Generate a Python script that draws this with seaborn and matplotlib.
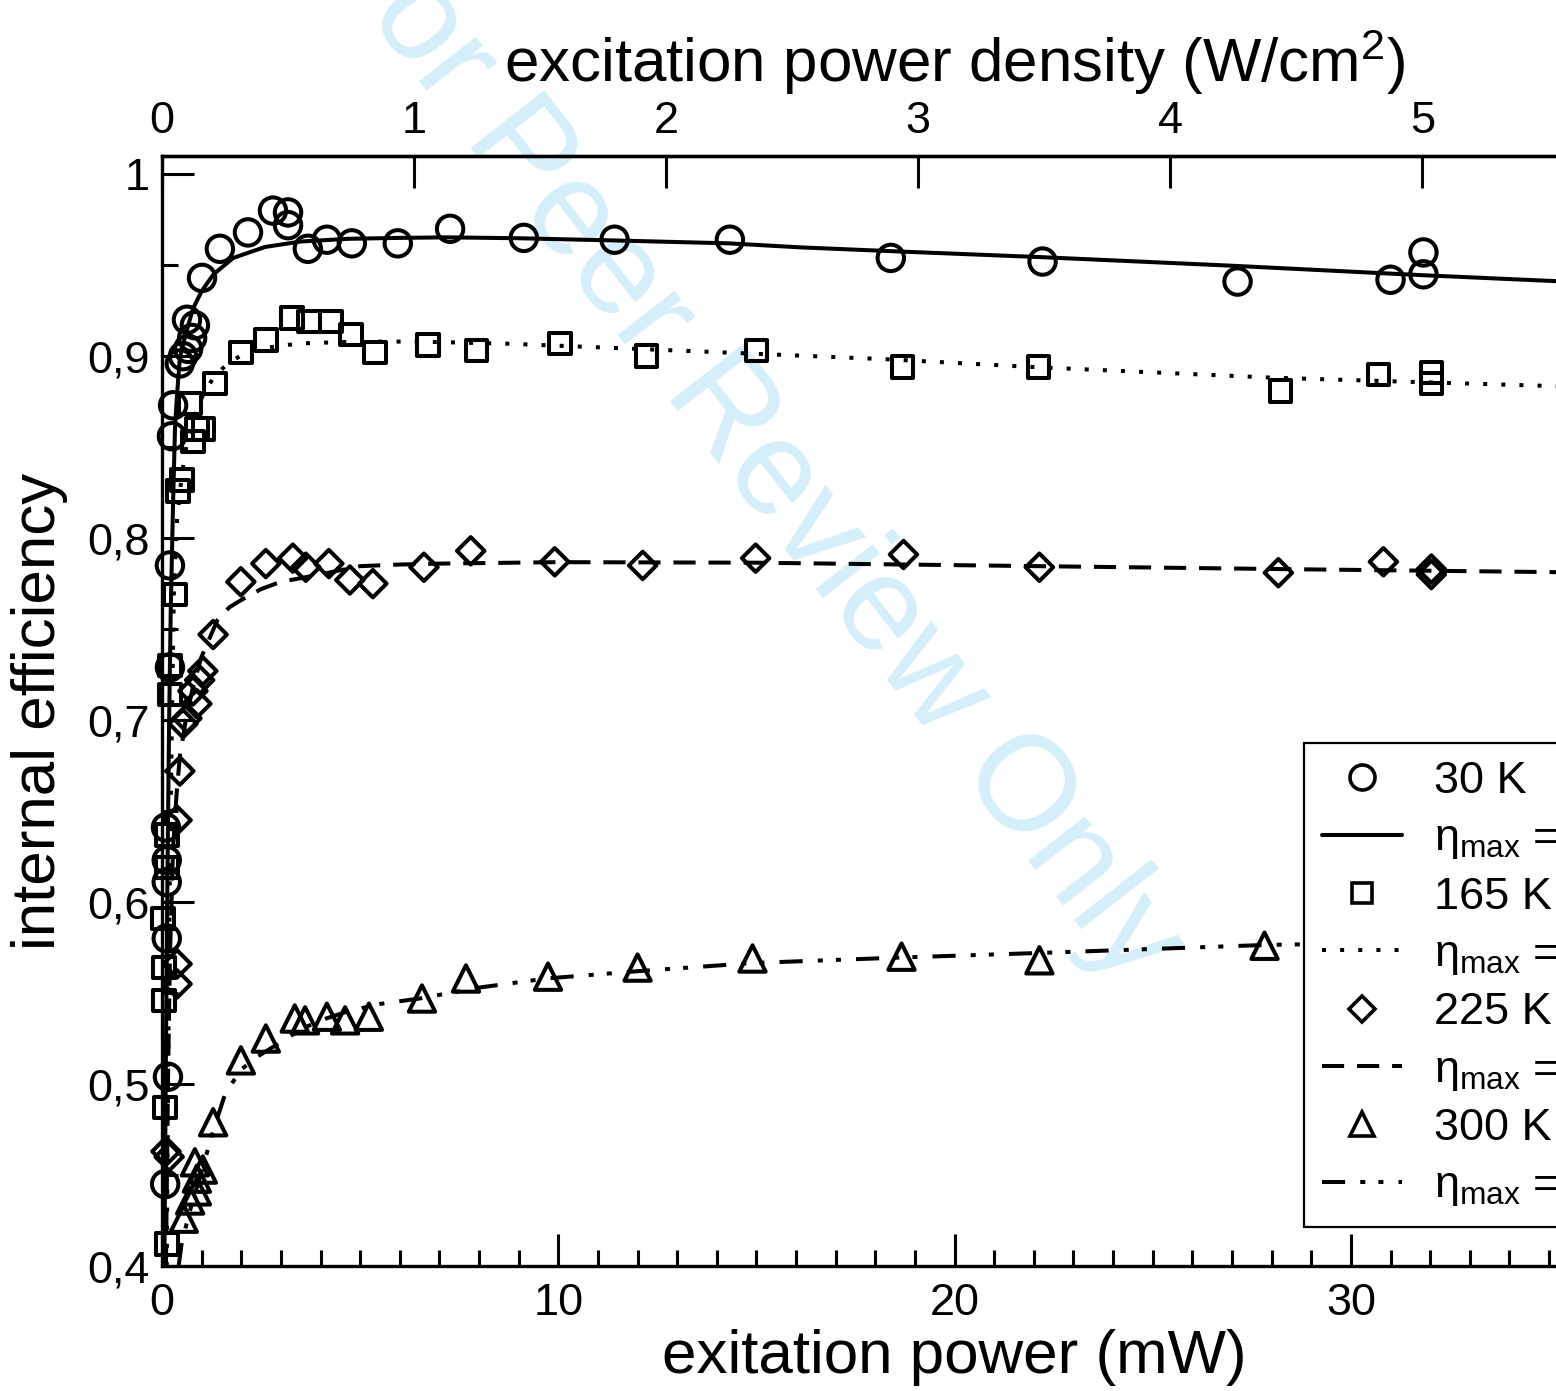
import numpy as np
import pandas as pd
import matplotlib
matplotlib.use("Agg")
import matplotlib.pyplot as plt
from matplotlib.lines import Line2D
from matplotlib.ticker import MultipleLocator, FuncFormatter, FixedLocator
import seaborn as sns

# ---------------- data ----------------
# 30 K measured points
t30_x = [0.08, 0.15, 0.12, 0.12, 0.12, 0.10, 0.20, 0.20, 0.25, 0.28, 0.45, 0.53, 0.66, 0.76, 0.83, 0.63,
         1.01, 1.46, 2.17, 2.80, 3.18, 3.18, 3.68, 4.16, 4.79, 5.95, 7.27, 9.13, 11.42, 14.33, 18.39,
         22.22, 27.14, 31.00, 31.83, 31.83]
t30_y = [0.445, 0.504, 0.580, 0.611, 0.623, 0.641, 0.729, 0.785, 0.856, 0.873, 0.896, 0.900, 0.904, 0.910,
         0.917, 0.920, 0.943, 0.959, 0.968, 0.980, 0.979, 0.972, 0.959, 0.964, 0.962, 0.962, 0.970, 0.965,
         0.964, 0.964, 0.954, 0.952, 0.941, 0.942, 0.945, 0.957]
# 165 K measured points
t165_x = [0.12, 0.08, 0.05, 0.05, 0.03, 0.13, 0.13, 0.20, 0.20, 0.33, 0.40, 0.50, 0.78, 0.88, 1.05, 0.71,
          1.34, 1.99, 2.62, 3.28, 3.71, 4.26, 4.77, 5.37, 6.71, 7.94, 10.04, 12.23, 15.00, 18.69, 22.12,
          28.22, 30.70, 32.03, 32.03]
t165_y = [0.412, 0.487, 0.546, 0.564, 0.591, 0.619, 0.637, 0.714, 0.730, 0.769, 0.826, 0.832, 0.853, 0.860,
          0.860, 0.874, 0.885, 0.902, 0.909, 0.921, 0.919, 0.919, 0.912, 0.902, 0.906, 0.903, 0.907, 0.900,
          0.903, 0.894, 0.894, 0.881, 0.890, 0.891, 0.885]
# 225 K measured points
t225_x = [0.10, 0.18, 0.38, 0.38, 0.38, 0.45, 0.53, 0.63, 0.88, 0.78, 1.03, 0.95, 1.29, 1.99, 2.62, 3.30,
          3.63, 4.21, 4.74, 5.32, 6.61, 7.79, 9.91, 12.13, 14.98, 18.71, 22.14, 28.17, 30.82, 32.03, 32.03]
t225_y = [0.463, 0.460, 0.555, 0.566, 0.645, 0.672, 0.698, 0.701, 0.709, 0.716, 0.727, 0.722, 0.747, 0.776,
          0.786, 0.789, 0.784, 0.786, 0.777, 0.775, 0.784, 0.793, 0.787, 0.785, 0.789, 0.791, 0.784, 0.781,
          0.787, 0.783, 0.780]
# 300 K measured points
t300_x = [0.55, 0.71, 0.88, 0.88, 1.03, 0.83, 1.29, 1.99, 2.62, 3.35, 3.61, 4.16, 4.62, 5.22, 6.56, 7.67,
          9.74, 12.00, 14.90, 18.66, 22.14, 27.82]
t300_y = [0.426, 0.436, 0.441, 0.448, 0.453, 0.457, 0.479, 0.513, 0.525, 0.536, 0.535, 0.537, 0.535, 0.537,
          0.547, 0.558, 0.559, 0.564, 0.569, 0.570, 0.568, 0.576]

# fitted curves (traced)
fit30_x = [0.06, 0.10, 0.14, 0.18, 0.22, 0.28, 0.33, 0.40, 0.45, 0.55, 0.65, 0.78, 1.0, 1.3, 1.8, 2.6, 3.5,
           4.7, 6.0, 7.2, 9.0, 11.4, 14.3, 16.1, 18.4, 22.2, 27.0, 31.8, 35.2, 40.0]
fit30_y = [0.40, 0.52, 0.62, 0.70, 0.76, 0.82, 0.862, 0.885, 0.899, 0.908, 0.916, 0.926, 0.9357, 0.945, 0.954,
           0.960, 0.963, 0.9645, 0.965, 0.9653, 0.9648, 0.9636, 0.962, 0.9598, 0.9577, 0.9544, 0.9497, 0.9445,
           0.9412, 0.9364]
fit165_x = [0.12, 0.16, 0.20, 0.25, 0.30, 0.38, 0.50, 0.65, 0.80, 1.0, 1.29, 1.64, 2.04, 2.55, 3.48, 4.92, 6.5,
            8.8, 13.45, 18.3, 22.0, 28.1, 35.2, 40.0]
fit165_y = [0.40, 0.52, 0.62, 0.70, 0.77, 0.81, 0.835, 0.855, 0.866, 0.877, 0.888, 0.8956, 0.901, 0.9044,
            0.907, 0.908, 0.908, 0.9068, 0.9027, 0.8983, 0.894, 0.8881, 0.8835, 0.8805]
fit225_x = [0.10, 0.15, 0.20, 0.28, 0.37, 0.45, 0.60, 0.80, 1.0, 1.4, 1.7, 2.0, 2.5, 3.0, 3.5, 4.2, 5.0, 6.0,
            7.0, 10.0, 15.0, 22.1, 28.2, 35.2, 40.0]
fit225_y = [0.40, 0.50, 0.57, 0.63, 0.66, 0.68, 0.70, 0.72, 0.735, 0.755, 0.762, 0.766, 0.772, 0.776, 0.778,
            0.781, 0.7846, 0.7855, 0.786, 0.7868, 0.7865, 0.7846, 0.783, 0.7813, 0.780]
fit300_x = [0.42, 0.50, 0.70, 1.0, 1.3, 1.6, 2.0, 2.4, 3.0, 3.5, 4.0, 4.7, 5.5, 6.5, 8.0, 9.7, 12.0, 14.9, 18.6,
            22.1, 27.8, 32.0, 40.0]
fit300_y = [0.40, 0.413, 0.43, 0.452, 0.475, 0.495, 0.508, 0.515, 0.523, 0.530, 0.535, 0.540, 0.544, 0.547,
            0.553, 0.558, 0.562, 0.5665, 0.5695, 0.572, 0.5764, 0.578, 0.581]

legend_labels = ["30 K", "η$_{\\mathrm{max}}$ = 0.97", "165 K", "η$_{\\mathrm{max}}$ = 0.91",
                 "225 K", "η$_{\\mathrm{max}}$ = 0.79", "300 K", "η$_{\\mathrm{max}}$ = 0.58"]

x_label = "exitation power (mW)"
top_label = "excitation power density (W/cm$^{2}$)"
y_label = "internal efficiency"
watermark = "For Peer Review Only"
mw_per_wcm2 = 6.36

# ---------------- style ----------------
sns.set_style("ticks")
plt.rcParams["font.family"] = ["Liberation Sans", "DejaVu Sans"]
plt.rcParams["mathtext.fontset"] = "custom"
plt.rcParams["mathtext.rm"] = "Liberation Sans"
plt.rcParams["mathtext.it"] = "Liberation Sans:italic"
plt.rcParams["mathtext.bf"] = "Liberation Sans:bold"
for key in ["text.color", "axes.labelcolor", "xtick.color", "ytick.color", "axes.edgecolor"]:
    plt.rcParams[key] = "black"

W, H = 1556, 1391
fig = plt.figure(figsize=(W / 100, H / 100), dpi=100)
fig.patch.set_facecolor("white")

x0, xr = 162, 162 + 40 * 39.63
ytop, ybot = 156, 1266
ax = fig.add_axes([x0 / W, (H - ybot) / H, (xr - x0) / W, (ybot - ytop) / H])
ax.set_zorder(1)
ax.patch.set_alpha(0)

fig.text(750 / W, 1 - 448 / H, watermark, rotation=-52, fontsize=97, color="#d4eefa",
         ha="center", va="center", rotation_mode="anchor", zorder=0)

LW = 2.9
ls_dot = (0, (1, 3.5))
ls_dash = (0, (5.5, 3.2))
ls_dashdotdot = (0, (5.75, 3.75, 1.25, 3.25, 1.25, 3.75))

curves = [
    (fit30_x, fit30_y, "-"),
    (fit165_x, fit165_y, ls_dot),
    (fit225_x, fit225_y, ls_dash),
    (fit300_x, fit300_y, ls_dashdotdot),
]
for cx, cy, ls in curves:
    sns.lineplot(x=cx, y=cy, ax=ax, color="black", linewidth=LW, linestyle=ls,
                 estimator=None, sort=False, legend=False)

pts = [
    (t30_x, t30_y, "o", 19),
    (t165_x, t165_y, "s", 15.5),
    (t225_x, t225_y, "D", 14),
    (t300_x, t300_y, "^", 19),
]
for px, py, mk, ms in pts:
    sns.scatterplot(x=px, y=py, ax=ax, marker=mk, s=ms ** 2, color="black",
                    facecolor="none", edgecolor="black", linewidth=2.9,
                    clip_on=False, legend=False, zorder=3)

ax.set_xlim(0, 40)
ax.set_ylim(0.4, 1.01)

ax.xaxis.set_major_locator(MultipleLocator(10))
ax.xaxis.set_minor_locator(MultipleLocator(1))
ax.yaxis.set_major_locator(MultipleLocator(0.1))
ax.yaxis.set_minor_locator(MultipleLocator(0.05))
ax.yaxis.set_major_formatter(FuncFormatter(
    lambda v, p: "1" if abs(v - 1) < 1e-9 else f"{v:.1f}".replace(".", ",")))

ax.tick_params(which="major", direction="in", length=23, width=2.2, labelsize=32.5,
               top=False, right=False, colors="black")
ax.tick_params(which="minor", direction="in", length=11.5, width=2.2, top=False, right=False,
               colors="black")
ax.tick_params(axis="x", which="major", pad=12)
ax.tick_params(axis="y", which="major", pad=9)

for s in ax.spines.values():
    s.set_linewidth(2.4)
    s.set_color("black")
ax.spines["right"].set_visible(False)

ax.set_xlabel(x_label, fontsize=44.6, labelpad=4, color="black")
ax.set_ylabel(y_label, fontsize=44.6, labelpad=14, color="black")

sec = ax.secondary_xaxis("top", functions=(lambda v: v / mw_per_wcm2, lambda v: v * mw_per_wcm2))
sec.xaxis.set_major_locator(MultipleLocator(1))
sec.xaxis.set_minor_locator(FixedLocator([]))
sec.tick_params(which="major", direction="in", length=23, width=2.2, labelsize=32.5, pad=10,
                colors="black")
sec.spines["top"].set_linewidth(2.4)
sec.spines["top"].set_color("black")
sec.set_xlabel(top_label, fontsize=44.6, labelpad=14, color="black")

handles = [
    Line2D([], [], marker="o", ls="none", mfc="none", mec="black", ms=18, mew=2.6),
    Line2D([], [], color="black", lw=LW, ls="-"),
    Line2D([], [], marker="s", ls="none", mfc="none", mec="black", ms=15, mew=2.6),
    Line2D([], [], color="black", lw=LW, ls=ls_dot),
    Line2D([], [], marker="D", ls="none", mfc="none", mec="black", ms=13, mew=2.6),
    Line2D([], [], color="black", lw=LW, ls=ls_dash),
    Line2D([], [], marker="^", ls="none", mfc="none", mec="black", ms=17, mew=2.6),
    Line2D([], [], color="black", lw=LW, ls=ls_dashdotdot),
]
leg = ax.legend(handles, legend_labels, loc="upper left",
                bbox_to_anchor=((1304 - x0) / (xr - x0), (ybot - 743) / (ybot - ytop)),
                borderaxespad=0, fontsize=32.5, frameon=True, fancybox=False, framealpha=1,
                edgecolor="black", handlelength=1.78, handletextpad=0.69, borderpad=0.4,
                labelspacing=0.34)
leg.get_frame().set_linewidth(1.6)
for t in leg.get_texts():
    t.set_color("black")

fig.savefig("out.png", dpi=100)
